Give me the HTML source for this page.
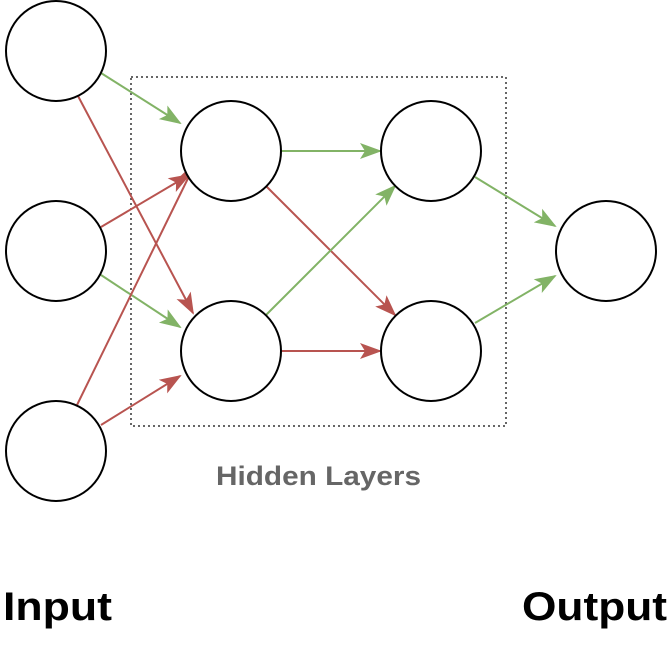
<!DOCTYPE html>
<html><head><style>html,body{margin:0;padding:0;background:#fff;}</style></head>
<body>
<svg width="668" height="653" viewBox="0 0 668 653" xmlns="http://www.w3.org/2000/svg">
<defs>
<marker id="g" viewBox="0 0 22 18" refX="20" refY="9" markerWidth="22" markerHeight="18" markerUnits="userSpaceOnUse" orient="auto">
<path d="M0,1 L22,9 L0,17 L5,9 Z" fill="#82b366"/></marker>
<marker id="r" viewBox="0 0 22 18" refX="20" refY="9" markerWidth="22" markerHeight="18" markerUnits="userSpaceOnUse" orient="auto">
<path d="M0,1 L22,9 L0,17 L5,9 Z" fill="#b85450"/></marker>
</defs>
<rect x="131" y="77" width="375" height="349" fill="none" stroke="#333" stroke-width="1.5" stroke-dasharray="2,3"/>
<g stroke-width="2" fill="none">
<line x1="101" y1="73" x2="180" y2="123" stroke="#82b366" marker-end="url(#g)"/>
<line x1="78" y1="96" x2="193" y2="313" stroke="#b85450" marker-end="url(#r)"/>
<line x1="101" y1="227" x2="189" y2="175" stroke="#b85450" marker-end="url(#r)"/>
<line x1="101" y1="275" x2="180" y2="327" stroke="#82b366" marker-end="url(#g)"/>
<line x1="77" y1="405" x2="196" y2="162" stroke="#b85450" marker-end="url(#r)"/>
<line x1="101" y1="425" x2="180" y2="376" stroke="#b85450" marker-end="url(#r)"/>
<line x1="282" y1="151" x2="380" y2="151" stroke="#82b366" marker-end="url(#g)"/>
<line x1="266" y1="186" x2="395" y2="315" stroke="#b85450" marker-end="url(#r)"/>
<line x1="266" y1="315" x2="395" y2="186" stroke="#82b366" marker-end="url(#g)"/>
<line x1="282" y1="351" x2="380" y2="351" stroke="#b85450" marker-end="url(#r)"/>
<line x1="475" y1="177" x2="555" y2="226" stroke="#82b366" marker-end="url(#g)"/>
<line x1="475" y1="323" x2="555" y2="276" stroke="#82b366" marker-end="url(#g)"/>
</g>
<g fill="#fff" stroke="#000" stroke-width="2">
<circle cx="56" cy="51" r="50"/><circle cx="56" cy="251" r="50"/><circle cx="56" cy="451" r="50"/>
<circle cx="231" cy="151" r="50"/><circle cx="231" cy="351" r="50"/>
<circle cx="431" cy="151" r="50"/><circle cx="431" cy="351" r="50"/>
<circle cx="606" cy="251" r="50"/>
</g>
<g font-family="Liberation Sans, sans-serif" font-weight="bold">
<text x="216" y="485" font-size="27" fill="#666" textLength="205" lengthAdjust="spacingAndGlyphs">Hidden Layers</text>
<text x="3" y="620" font-size="40" fill="#000" textLength="109" lengthAdjust="spacingAndGlyphs">Input</text>
<text x="522" y="620" font-size="40" fill="#000" textLength="145" lengthAdjust="spacingAndGlyphs">Output</text>
</g>
</svg>
</body></html>
